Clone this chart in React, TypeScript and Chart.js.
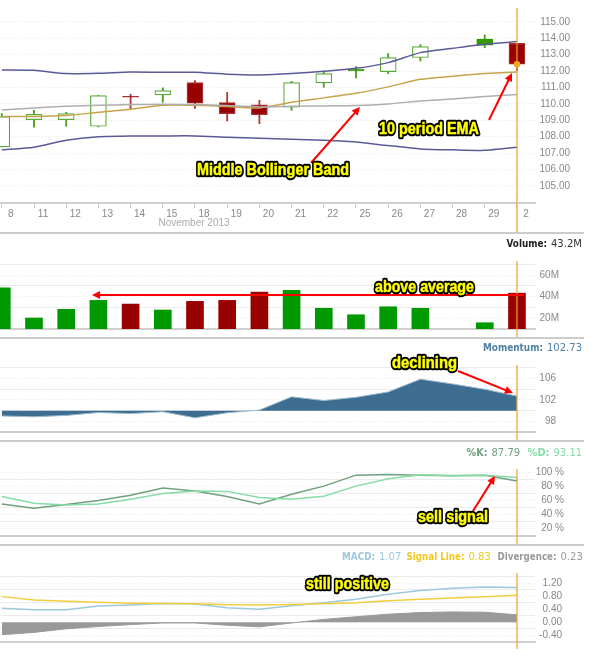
import { useEffect, useRef } from "react"
import { Chart, registerables } from "chart.js"

Chart.register(...registerables)

const days = ["8", "11", "12", "13", "14", "15", "18", "19", "20", "21", "22", "25", "26", "27", "28", "29", "2"]
const dayIndexes = days.map((_, i) => i)

const opens = [107.38, 109.04, 109.04, 108.64, 110.47, 110.55, 111.3, 110.08, 109.94, 109.8, 111.28, 112.13, 111.97, 112.83, null, 113.96, 113.7]
const closes = [109.23, 109.37, 109.41, 110.51, 110.42, 110.81, 110.04, 109.41, 109.35, 111.3, 111.85, 112.01, 112.83, 113.5, null, 113.58, 112.42]
const highs = [109.41, 109.61, 109.49, 110.53, 110.59, 110.98, 111.42, 110.71, 110.22, 111.38, 112.0, 112.28, 113.07, 113.62, null, 114.21, 113.7]
const lows = [107.38, 108.58, 108.64, 108.6, 109.67, 110.1, 109.72, 108.96, 108.8, 109.61, 111.02, 111.59, 111.85, 112.62, null, 113.43, 112.01]

const upperBand = [112.07, 112.05, 111.85, 111.87, 111.95, 111.93, 111.93, 111.81, 111.77, 111.85, 111.99, 112.17, 112.52, 113.13, 113.39, 113.64, 113.8]
const lowerBand = [107.2, 107.36, 107.78, 108.0, 108.05, 108.05, 108.05, 107.97, 107.91, 107.85, 107.78, 107.68, 107.46, 107.26, 107.2, 107.17, 107.36]
const middleBand = [109.63, 109.76, 109.86, 109.92, 109.96, 109.98, 109.96, 109.9, 109.82, 109.86, 109.88, 109.9, 110.0, 110.18, 110.3, 110.45, 110.57]
const ema10 = [109.23, 109.23, 109.29, 109.49, 109.67, 109.92, 109.92, 109.84, 109.76, 110.1, 110.37, 110.65, 111.04, 111.5, 111.69, 111.85, 111.95]

const volume = [48.2, 20.2, 28.2, 36.5, 33.1, 27.6, 35.6, 36.5, 44.2, 45.8, 29.2, 23.2, 30.6, 29.2, null, 15.8, 43.2]
const momentum = [99.0, 98.85, 99.1, 99.65, 99.45, 99.8, 98.65, 99.6, 100.1, 102.58, 101.9, 102.5, 103.5, 105.9, 105.0, 104.0, 102.73]
const stochK = [55.1, 49.1, 54.2, 60.2, 67.6, 77.8, 73.6, 65.7, 55.1, 69.0, 80.6, 96.3, 97.2, 96.3, 95.4, 96.3, 87.79]
const stochD = [65.7, 56.0, 53.7, 55.1, 62.0, 70.0, 73.6, 73.1, 64.4, 62.0, 66.2, 80.6, 91.2, 96.8, 95.8, 96.3, 93.11]
const macd = [0.43, 0.39, 0.39, 0.5, 0.53, 0.58, 0.56, 0.45, 0.4, 0.51, 0.6, 0.71, 0.86, 0.98, 1.05, 1.09, 1.07]
const signalLine = [0.79, 0.69, 0.65, 0.62, 0.59, 0.58, 0.57, 0.54, 0.53, 0.55, 0.57, 0.6, 0.66, 0.71, 0.75, 0.79, 0.83]
const divergence = [-0.38, -0.31, -0.2, -0.13, -0.07, -0.02, -0.02, -0.09, -0.14, -0.02, 0.09, 0.17, 0.25, 0.3, 0.32, 0.31, 0.23]

const priceGrid = [115, 114, 113, 112, 111, 110, 109, 108, 107, 106, 105]
const volumeGrid = [70, 60, 50, 40, 30, 20]
const volumeLabels = [60, 40, 20]
const momentumGrid = [108, 106, 104, 102, 100, 98]
const momentumLabels = [106, 102, 98]
const stochGrid = [100, 90, 80, 70, 60, 50, 40, 30, 20]
const stochLabels = [100, 80, 60, 40, 20]
const macdGrid = [1.4, 1.2, 1.0, 0.8, 0.6, 0.4, 0.2, 0, -0.2, -0.4]
const macdLabels = [1.2, 0.8, 0.4, 0, -0.4]

const GREEN = "#009900"
const RED = "#990000"
const ORANGE = "#f0a030"
const SANS = '"Liberation Sans"'
const VERDANA = '"DejaVu Sans"'
const AREA_RIGHT = 535

// dia de alta = fecho acima do fecho anterior
const isUp = (i: number) => {
  if (i === 0) return true
  return (closes[i] as number) >= (closes[i - 1] as number)
}

const toPoints = (values: (number | null)[]) => values.map((y, x) => ({ x, y }))
const rangePoints = (a: (number | null)[], b: (number | null)[]) =>
  a.map((v, x) => ({ x, y: v === null ? null : [v, b[x]] }))

const lineSet = (values: number[], color: string, extra: any = {}) => ({
  type: "line",
  data: toPoints(values),
  borderColor: color,
  borderWidth: 1.5,
  pointRadius: 0,
  tension: 0,
  order: 2,
  ...extra,
})

type Piece = { text: string; x: number; y: number; color: string; bold?: boolean }
type Callout = { text: string; left: number; right: number; y: number }
type Arrow = { from: [number, number]; to: [number, number] }

interface PanelSpec {
  top: number
  height: number
  areaTop: number
  areaBottom: number
  crossBottom: number
  yMin: number
  yMax: number
  grid: number[]
  labels: number[]
  format: (v: number) => string
  labelRight: number
  datasets: any[]
  showDays?: boolean
  header?: Piece[]
  callouts?: Callout[]
  arrows?: Arrow[]
}

const panels: PanelSpec[] = [
  {
    top: 0,
    height: 232,
    areaTop: 8,
    areaBottom: 203,
    crossBottom: 232,
    yMin: 103.96,
    yMax: 115.85,
    grid: priceGrid,
    labels: priceGrid,
    format: (v) => v.toFixed(2),
    labelRight: 570,
    showDays: true,
    datasets: [
      {
        type: "bar",
        data: rangePoints(lows, highs),
        backgroundColor: dayIndexes.map((i) => (isUp(i) ? "#4c9f1c" : "#b03a3a")),
        barThickness: 1.2,
        grouped: false,
        order: 6,
      },
      {
        type: "bar",
        data: rangePoints(opens, closes),
        backgroundColor: dayIndexes.map((i) =>
          (closes[i] as number) > (opens[i] as number) ? "#ffffff" : isUp(i) ? "#339900" : RED,
        ),
        borderColor: dayIndexes.map((i) =>
          (closes[i] as number) > (opens[i] as number) ? "#5aa838" : isUp(i) ? "#339900" : "#a83232",
        ),
        borderWidth: 1.2,
        borderSkipped: false,
        barThickness: 16,
        grouped: false,
        order: 5,
      },
      lineSet(upperBand, "#5a5a98", { tension: 0.2 }),
      lineSet(lowerBand, "#5a5a98", { tension: 0.2 }),
      lineSet(middleBand, "#aeaeae", { tension: 0.2 }),
      lineSet(ema10, "#c9a24c", { tension: 0.2 }),
      {
        type: "line",
        data: [{ x: 16, y: closes[16] }],
        pointRadius: 3.2,
        pointBackgroundColor: "#f7a823",
        pointBorderWidth: 0,
        showLine: false,
        order: 0,
      },
    ],
    callouts: [
      { text: "Middle Bollinger Band", left: 197, right: 349, y: 170 },
      { text: "10 period EMA", left: 379, right: 479, y: 129 },
    ],
    arrows: [
      { from: [311, 163], to: [360, 107] },
      { from: [489, 120], to: [512, 73] },
    ],
  },
  {
    top: 232,
    height: 105,
    areaTop: 261,
    areaBottom: 329,
    crossBottom: 337,
    yMin: 10,
    yMax: 73,
    grid: volumeGrid,
    labels: volumeLabels,
    format: (v) => `${v}M`,
    labelRight: 559,
    datasets: [
      {
        type: "bar",
        data: toPoints(volume),
        backgroundColor: dayIndexes.map((i) => (isUp(i) ? GREEN : RED)),
        barThickness: 17,
        grouped: false,
      },
    ],
    header: [
      { text: "Volume:", x: 506.5, y: 244, color: "#222222", bold: true },
      { text: "43.2M", x: 551, y: 244, color: "#333333" },
    ],
    callouts: [{ text: "above average", left: 375, right: 474, y: 287 }],
    arrows: [{ from: [524, 295], to: [92, 295] }],
  },
  {
    top: 337,
    height: 103,
    areaTop: 365,
    areaBottom: 433,
    crossBottom: 440,
    yMin: 96,
    yMax: 108.55,
    grid: momentumGrid,
    labels: momentumLabels,
    format: (v) => `${v}`,
    labelRight: 556,
    datasets: [
      lineSet(momentum, "#9db8cc", {
        borderWidth: 1,
        backgroundColor: "#3d6e91",
        fill: { target: { value: 100 } },
      }),
    ],
    header: [
      { text: "Momentum:", x: 483, y: 348, color: "#4f81a6", bold: true },
      { text: "102.73", x: 547, y: 348, color: "#4f81a6" },
    ],
    callouts: [{ text: "declining", left: 392, right: 457, y: 363 }],
    arrows: [{ from: [458, 371], to: [513, 393] }],
  },
  {
    top: 440,
    height: 104,
    areaTop: 469,
    areaBottom: 538,
    crossBottom: 544,
    yMin: 9.3,
    yMax: 105.1,
    grid: stochGrid,
    labels: stochLabels,
    format: (v) => `${v} %`,
    labelRight: 564,
    datasets: [lineSet(stochD, "#85dca4"), lineSet(stochK, "#6da27c")],
    header: [
      { text: "%K:", x: 466.5, y: 453.5, color: "#6da27c", bold: true },
      { text: "87.79", x: 491.5, y: 453.5, color: "#6da27c" },
      { text: "%D:", x: 527.5, y: 453.5, color: "#85dca4", bold: true },
      { text: "93.11", x: 553.5, y: 453.5, color: "#85dca4" },
    ],
    callouts: [{ text: "sell signal", left: 418, right: 488, y: 517 }],
    arrows: [{ from: [473, 511], to: [495, 476] }],
  },
  {
    top: 544,
    height: 112,
    areaTop: 573,
    areaBottom: 642,
    crossBottom: 649,
    yMin: -0.606,
    yMax: 1.517,
    grid: macdGrid,
    labels: macdLabels,
    format: (v) => v.toFixed(2),
    labelRight: 562,
    datasets: [
      lineSet(divergence, "#999999", {
        borderWidth: 1,
        backgroundColor: "#999999",
        fill: { target: { value: 0 } },
        order: 4,
      }),
      lineSet(signalLine, "#f2cf3a"),
      lineSet(macd, "#9cc8de"),
    ],
    header: [
      { text: "MACD:", x: 342, y: 557.5, color: "#9cc8de", bold: true },
      { text: "1.07", x: 379, y: 557.5, color: "#9cc8de" },
      { text: "Signal Line:", x: 406.5, y: 557.5, color: "#f2c81e", bold: true },
      { text: "0.83", x: 468.5, y: 557.5, color: "#f2c81e" },
      { text: "Divergence:", x: 497.5, y: 557.5, color: "#999999", bold: true },
      { text: "0.23", x: 560.5, y: 557.5, color: "#999999" },
    ],
    callouts: [{ text: "still positive", left: 306, right: 389, y: 584 }],
  },
]

function drawArrow(ctx: CanvasRenderingContext2D, a: Arrow, top: number) {
  const [x1, y1] = [a.from[0], a.from[1] - top]
  const [x2, y2] = [a.to[0], a.to[1] - top]
  const angle = Math.atan2(y2 - y1, x2 - x1)
  const size = 9
  ctx.save()
  ctx.strokeStyle = "#ff0000"
  ctx.fillStyle = "#ff0000"
  ctx.lineWidth = 2
  ctx.beginPath()
  ctx.moveTo(x1, y1)
  ctx.lineTo(x2 - Math.cos(angle) * size * 0.8, y2 - Math.sin(angle) * size * 0.8)
  ctx.stroke()
  ctx.beginPath()
  ctx.moveTo(x2, y2)
  ctx.lineTo(x2 - size * Math.cos(angle - 0.45), y2 - size * Math.sin(angle - 0.45))
  ctx.lineTo(x2 - size * Math.cos(angle + 0.45), y2 - size * Math.sin(angle + 0.45))
  ctx.closePath()
  ctx.fill()
  ctx.restore()
}

function overlayPlugin(spec: PanelSpec) {
  return {
    id: "overlay",
    afterDatasetsDraw(chart: any) {
      // linha vertical do cursor
      const { ctx, chartArea, scales } = chart
      const x = scales.x.getPixelForValue(16)
      ctx.save()
      ctx.strokeStyle = ORANGE
      ctx.lineWidth = 1.2
      ctx.beginPath()
      ctx.moveTo(x, chartArea.top)
      ctx.lineTo(x, spec.crossBottom - spec.top)
      ctx.stroke()
      ctx.restore()
    },
    afterDraw(chart: any) {
      const ctx: CanvasRenderingContext2D = chart.ctx
      ctx.save()
      ctx.textBaseline = "middle"
      ctx.textAlign = "left"
      const header = spec.header ?? []
      header.forEach((p, i) => {
        ctx.font = `${p.bold ? "bold " : ""}10px ${VERDANA}`
        ctx.fillStyle = p.color
        const next = header[i + 1]
        const room = next ? next.x - p.x - 4 : 584 - p.x
        ctx.fillText(p.text, p.x, p.y - spec.top, room)
      })
      if (spec.showDays) {
        ctx.font = `10px ${SANS}`
        ctx.fillStyle = "#aaaaaa"
        ctx.textAlign = "center"
        ctx.fillText("November 2013", 194, 223.5)
        ctx.textAlign = "left"
      }
      for (const a of spec.arrows ?? []) drawArrow(ctx, a, spec.top)
      ctx.font = `bold 17px ${SANS}`
      ctx.lineJoin = "round"
      for (const c of spec.callouts ?? []) {
        const w = c.right - c.left
        ctx.strokeStyle = "#000000"
        ctx.lineWidth = 4.5
        ctx.strokeText(c.text, c.left, c.y - spec.top, w)
        ctx.fillStyle = "#ffff00"
        ctx.strokeStyle = "#ffff00"
        ctx.lineWidth = 0.5
        ctx.strokeText(c.text, c.left, c.y - spec.top, w)
        ctx.fillText(c.text, c.left, c.y - spec.top, w)
      }
      ctx.restore()
    },
  }
}

function Panel({ spec }: { spec: PanelSpec }) {
  const canvasRef = useRef<HTMLCanvasElement>(null)

  useEffect(() => {
    if (!canvasRef.current) return
    const chart = new Chart(canvasRef.current, {
      type: "bar",
      data: { datasets: spec.datasets },
      plugins: [overlayPlugin(spec)],
      options: {
        animation: false,
        responsive: false,
        layout: {
          autoPadding: false,
          padding: { top: spec.areaTop - spec.top, left: 0, right: 602 - spec.labelRight, bottom: 0 },
        },
        plugins: { legend: { display: false }, tooltip: { enabled: false } },
        scales: {
          x: {
            type: "linear",
            offset: false,
            min: -0.056,
            max: 16.56,
            afterBuildTicks: (scale: any) => {
              scale.ticks = dayIndexes.map((value) => ({ value }))
            },
            afterFit: (scale: any) => {
              scale.height = spec.top + spec.height - spec.areaBottom
              // sem margem extra para os rótulos das pontas
              scale.paddingLeft = 0
              scale.paddingRight = 0
            },
            grid: {
              offset: false,
              drawOnChartArea: false,
              drawTicks: !!spec.showDays,
              tickLength: 5,
              color: "#cccccc",
            },
            border: { color: "#cfcfcf", width: 2 },
            ticks: {
              display: !!spec.showDays,
              autoSkip: false,
              maxRotation: 0,
              labelOffset: 9,
              padding: 0,
              color: "#888888",
              font: { family: SANS, size: 10 },
              callback: (value: any) => days[value as number],
            },
          },
          y: {
            position: "right",
            min: spec.yMin,
            max: spec.yMax,
            afterBuildTicks: (scale: any) => {
              scale.ticks = spec.grid.map((value) => ({ value }))
            },
            afterFit: (scale: any) => {
              scale.width = spec.labelRight - AREA_RIGHT
            },
            grid: { drawTicks: false, color: "#ebebeb", lineWidth: 1 },
            border: {
              display: false,
              dash: (ctx: any) => (spec.labels.includes(ctx.tick?.value) ? [1, 2] : []),
            },
            ticks: {
              autoSkip: false,
              crossAlign: "far",
              padding: 2,
              color: "#888888",
              font: { family: SANS, size: 10 },
              callback: (value: any) => (spec.labels.includes(value) ? spec.format(value) : ""),
            },
          },
        },
      } as any,
    } as any)

    return () => {
      chart.destroy()
    }
  }, [spec])

  return (
    <canvas
      ref={canvasRef}
      width={602}
      height={spec.height}
      style={{ position: "absolute", left: 0, top: spec.top, width: 602, height: spec.height, display: "block" }}
    />
  )
}

export default function App() {
  return (
    <div style={{ position: "absolute", left: 0, top: 0, width: 602, height: 656, background: "#fff", overflow: "hidden" }}>
      {panels.map((spec) => (
        <Panel key={spec.top} spec={spec} />
      ))}
      {panels.slice(1).map((spec) => (
        <div
          key={spec.top}
          style={{ position: "absolute", left: 0, top: spec.top, width: 584, height: 1.5, background: "#cccccc" }}
        />
      ))}
    </div>
  )
}
